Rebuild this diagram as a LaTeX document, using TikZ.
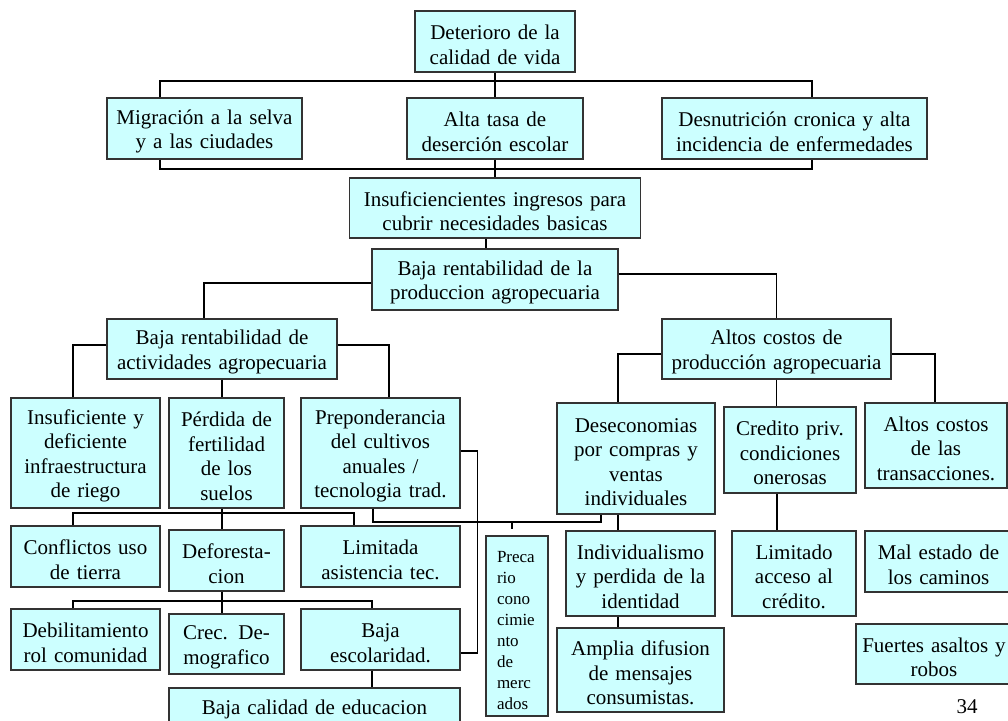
\documentclass[tikz,border=0pt]{standalone}
\usepackage{fontspec}
\setmainfont[WordSpace=0.7]{Liberation Serif}
\usepackage{xcolor}
\usepackage{tikz}
\definecolor{cajafondo}{HTML}{CCFFFF}
\definecolor{cajaborde}{HTML}{333333}

\begin{document}
\begin{tikzpicture}[x=1pt,y=-1pt,
    caja/.style={draw=cajaborde,fill=cajafondo,line width=1.2pt,inner sep=0pt,
        align=center,font=\fontsize{21}{24.5}\selectfont,
        execute at begin node={\rule{0pt}{21pt}}},
    tam/.style 2 args={text width=#1pt,minimum height=#2pt},
    precbox/.style={text width=40pt,inner xsep=11pt,minimum height=180pt,
        align=left,font=\fontsize{17}{21}\selectfont},
    linea/.style={line width=1.2pt,black}]
\useasboundingbox (0,0) rectangle (1008,720);

% Arbol: efecto principal y efectos
\node[caja,tam={160}{61}] (deterioro) at (495,41.5) {Deterioro de la\\calidad de vida};
\node[caja,tam={195}{61}] (migracion) at (204.5,128.5) {Migración a la selva\\y a las ciudades};
\node[caja,tam={176}{61}] (desercion) at (495,128.5) {Alta tasa de\\deserción escolar};
\node[caja,tam={265}{61}] (desnutricion) at (794.5,128.5) {Desnutrición cronica y alta\\incidencia de enfermedades};
\node[caja,tam={291}{60}] (ingresos) at (495,208) {Insuficiencientes ingresos para\\cubrir necesidades basicas};
\node[caja,tam={246}{61}] (rentabilidad) at (495,279.5) {Baja rentabilidad de la\\produccion agropecuaria};

% Causas directas
\node[caja,tam={230}{60}] (actividades) at (222,349) {Baja rentabilidad de\\actividades agropecuaria};
\node[caja,tam={229}{60}] (costos) at (776.5,349) {Altos costos de\\producción agropecuaria};

% Causas indirectas
\node[caja,tam={149}{110}] (infraestructura) at (85.5,453) {Insuficiente y\\deficiente\\infraestructura\\de riego};
\node[caja,tam={115}{110}] (perdida) at (226.5,453) {Pérdida de\\fertilidad\\de los\\suelos};
\node[caja,tam={159}{110}] (preponderancia) at (380.5,453) {Preponderancia\\del cultivos\\anuales /\\tecnologia trad.};
\node[caja,tam={158}{111}] (deseconomias) at (636,458.5) {Deseconomias\\por compras y\\ventas\\individuales};
\node[caja,tam={132}{86}] (credito) at (790,450) {Credito priv.\\condiciones\\onerosas};
\node[caja,tam={142}{85}] (transacciones) at (936,445.5) {Altos costos\\de las\\transacciones.};

\node[caja,tam={149}{61}] (conflictos) at (85.5,556.5) {Conflictos uso\\de tierra};
\node[caja,tam={115}{61}] (deforestacion) at (226.5,560.5) {Deforesta-\\cion};
\node[caja,tam={159}{61}] (asistencia) at (380.5,556.5) {Limitada\\asistencia tec.};
\node[caja,precbox] (precario) at (517,626) {Preca\\rio\\cono\\cimie\\nto\\de\\merc\\ados};
\node[caja,tam={149}{85}] (individualismo) at (640.5,573.5) {Individualismo\\y perdida de la\\identidad};
\node[caja,tam={124}{85}] (acceso) at (794,573.5) {Limitado\\acceso al\\crédito.};
\node[caja,tam={147}{61}] (caminos) at (938.5,561.5) {Mal estado de\\los caminos};

\node[caja,tam={149}{61}] (debilitamiento) at (85.5,639.5) {Debilitamiento\\rol comunidad};
\node[caja,tam={115}{60}] (demografico) at (226.5,644) {Crec. De-\\mografico};
\node[caja,tam={159}{61}] (escolaridad) at (380.5,639.5) {Baja\\escolaridad.};
\node[caja,tam={167}{84}] (difusion) at (640.5,670) {Amplia difusion\\de mensajes\\consumistas.};
\node[caja,tam={156}{60}] (asaltos) at (934,654) {Fuertes asaltos y\\robos};
\node[caja,tam={291}{36}] (educacion) at (314.5,706) {Baja calidad de educacion};

\node[font=\fontsize{21}{24}\selectfont] (pagina) at (967,707) {34};

% Conectores parte superior
\coordinate (busA) at (495,81);
\coordinate (busB) at (495,169);
\draw[linea] (deterioro) -- (desercion);
\draw[linea] ([xshift=-44.5pt]migracion.north) |- (busA) -| ([xshift=17.5pt]desnutricion.north);
\draw[linea] ([xshift=-44.5pt]migracion.south) |- (busB) -| ([xshift=17.5pt]desnutricion.south);
\draw[linea] (desercion) -- (ingresos);
\draw[linea] ([xshift=-9pt]ingresos.south) -- ([xshift=-9pt]rentabilidad.north);
\draw[linea] ([yshift=-3.5pt]rentabilidad.west) -| ([xshift=-18pt]actividades.north);
\draw[linea] ([yshift=5.5pt]rentabilidad.east) -| (costos.north);

% Conectores rama izquierda
\draw[linea] ([yshift=4pt]actividades.west) -| ([xshift=-12.5pt]infraestructura.north);
\draw[linea] ([yshift=4pt]actividades.east) -| ([xshift=8.5pt]preponderancia.north);
\draw[linea] (actividades.south) -- (actividades.south |- perdida.north);
\coordinate (busC) at (222,513);
\draw[linea] ([xshift=-4.5pt]perdida.south) -- ([xshift=-4.5pt]deforestacion.north);
\draw[linea] ([xshift=-12.5pt]conflictos.north) |- (busC) -| ([xshift=-26.5pt]asistencia.north);
\coordinate (busD) at (512,522);
\coordinate (ramaD) at (512,529);
\draw[linea] ([xshift=-7.5pt]preponderancia.south) |- (busD) -| ([xshift=-35pt]deseconomias.south);
\draw[linea] (busD) -- (ramaD);
\draw[linea] ([yshift=2pt]preponderancia.east) -- ++(17,0) |- ([yshift=-13.5pt]escolaridad.east);
\coordinate (busE) at (222,601);
\draw[linea] ([xshift=-4.5pt]deforestacion.south) -- ([xshift=-4.5pt]demografico.north);
\draw[linea] ([xshift=-12.5pt]debilitamiento.north) |- (busE) -| ([xshift=-8.5pt]escolaridad.north);
\draw[linea] ([xshift=-8.5pt]escolaridad.south) -- ([xshift=57.5pt]educacion.north);

% Conectores rama derecha
\draw[linea] ([yshift=-5pt]costos.west) -| ([xshift=-18pt]deseconomias.north);
\draw[linea] ([yshift=-5pt]costos.east) -| ([xshift=-1pt]transacciones.north);
\draw[linea] (costos.south) -- ([xshift=-13.5pt]credito.north);
\draw[linea] ([xshift=-18pt]deseconomias.south) -- ([xshift=-22.5pt]individualismo.north);
\draw[linea] ([xshift=-22.5pt]individualismo.south) -- ([xshift=-22.5pt]difusion.north);
\draw[linea] ([xshift=-13pt]credito.south) -- ([xshift=-17pt]acceso.north);
\coordinate (salida) at (1012,452);
\draw[linea] ([yshift=-6.5pt]transacciones.east) -- (salida);
\end{tikzpicture}
\end{document}
